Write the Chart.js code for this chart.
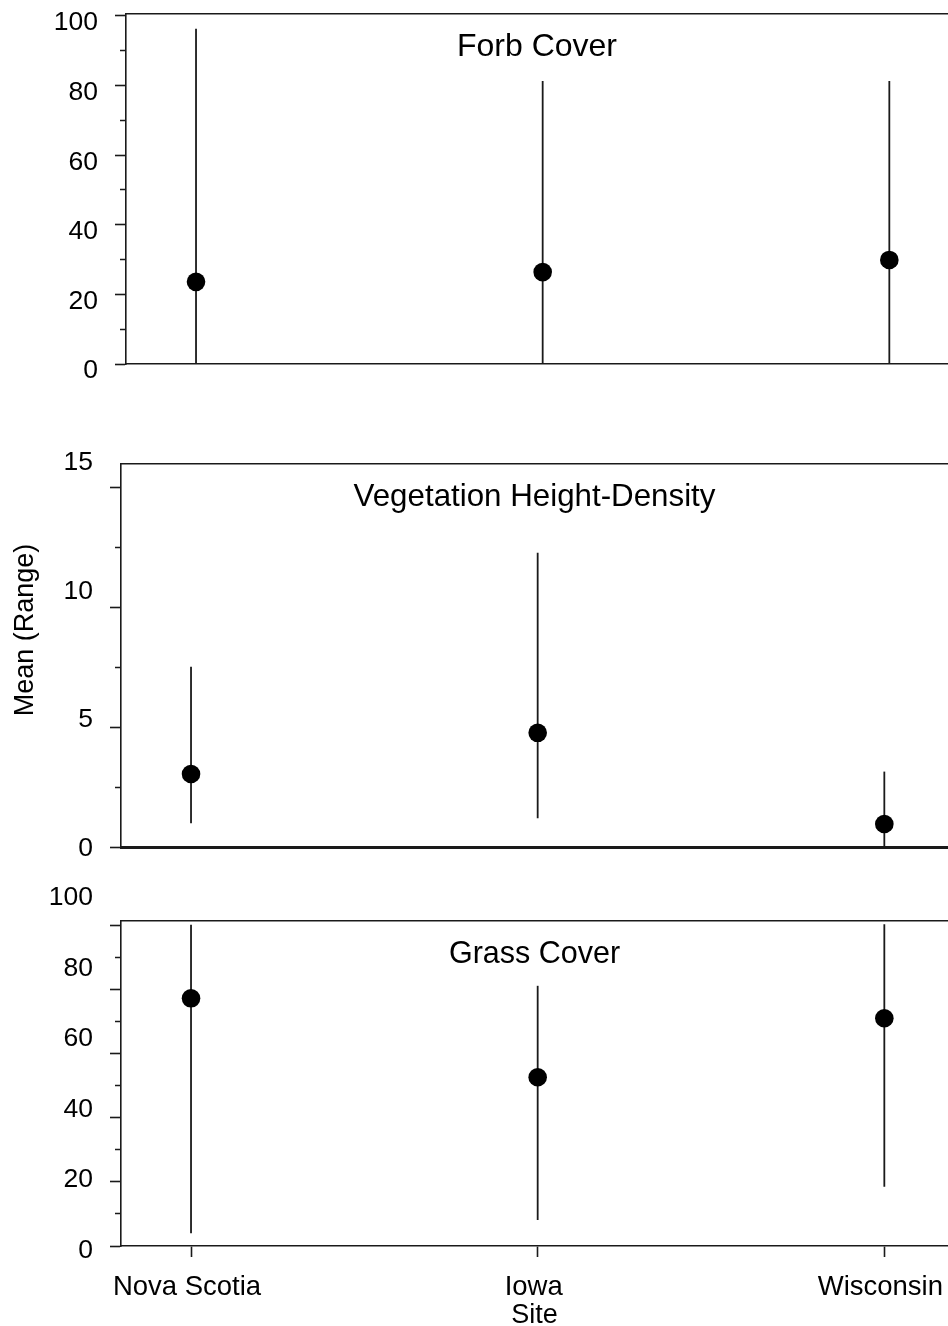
<!DOCTYPE html>
<html><head><meta charset="utf-8">
<script src="https://cdn.jsdelivr.net/npm/chart.js@4"></script>
<style>
html,body{margin:0;padding:0;background:#fff;overflow:hidden;width:948px;height:1326px}
canvas{position:absolute;left:0}
</style>
</head><body>
<canvas id="c1" width="948" height="400" style="top:0px"></canvas>
<canvas id="c2" width="948" height="460" style="top:400px"></canvas>
<canvas id="c3" width="948" height="466" style="top:860px"></canvas>
<script>
// ---- data ----
const sites = ['Nova Scotia', 'Iowa', 'Wisconsin'];

const forbMean = [23.6, 26.4, 29.9];
const forbLow  = [0, 0, 0];
const forbHigh = [96.3, 81.3, 81.3];

const vegMean = [3.05, 4.77, 0.96];
const vegLow  = [0.99, 1.2, 0];
const vegHigh = [7.53, 12.29, 3.15];

const grassMean = [77.2, 52.6, 71.0];
const grassLow  = [4.0, 8.1, 18.5];
const grassHigh = [100.1, 81.1, 100.3];

const forbTicks  = [0, 10, 20, 30, 40, 50, 60, 70, 80, 90, 100];
const forbMajor  = [0, 20, 40, 60, 80, 100];
const forbLabels = [0, 20, 40, 60, 80, 100];

const vegTicks  = [0, 2.5, 5, 7.5, 10, 12.5, 15];
const vegMajor  = [0, 5, 10, 15];
const vegLabels = [0, 5, 10, 15];

const grassTicks  = [0, 10, 20, 30, 40, 50, 60, 70, 80, 90, 100];
const grassMajor  = [0, 20, 40, 60, 80, 100];
const grassLabels = [0, 20, 40, 60, 80, 100];

// ---- styling ----
const FONT = "'Liberation Sans', Arial, Helvetica, sans-serif";
const INK = '#000';
const LINE = '#1a1a1a';
const X_MIN = 0.798;
const PX_PER_SITE = 346.65;
Chart.defaults.font.family = FONT;
Chart.defaults.color = INK;

function panel(canvasId, p) {
  const W = 948;
  const xMax = X_MIN + (W - p.left) / PX_PER_SITE;
  const datasets = [];
  sites.forEach((s, i) => {
    datasets.push({
      type: 'line',
      data: [{x: i + 1, y: p.low[i]}, {x: i + 1, y: p.high[i]}],
      borderColor: LINE, borderWidth: 1.8, pointRadius: 0, fill: false, tension: 0, order: 2
    });
  });
  datasets.push({
    type: 'scatter',
    data: p.mean.map((m, i) => ({x: i + 1, y: m})),
    pointRadius: 9.3, pointHoverRadius: 9.3, backgroundColor: INK, borderWidth: 0, order: 1
  });
  const titleBoxW = p.yTitle ? p.yTitle.size * 1.2 + p.yTitle.pad : 0;

  new Chart(document.getElementById(canvasId), {
    type: 'scatter',
    data: {datasets},
    options: {
      responsive: false, animation: false, devicePixelRatio: 1, events: [],
      layout: {padding: 0, autoPadding: false},
      plugins: {
        legend: {display: false},
        tooltip: {enabled: false},
        title: p.yTitle ? {
          display: true, position: 'left', fullSize: true, align: 'center',
          text: p.yTitle.text, color: INK,
          font: {family: FONT, size: p.yTitle.size, weight: 'normal', lineHeight: 1.2},
          padding: {top: p.yTitle.pad, bottom: 0}
        } : {display: false}
      },
      scales: {
        x: {
          type: 'linear', position: 'bottom', min: X_MIN, max: xMax,
          afterBuildTicks: a => { a.ticks = sites.map((s, i) => ({value: i + 1})); },
          ticks: {
            display: p.showX, autoSkip: false, maxRotation: 0, minRotation: 0,
            callback: v => sites[Math.round(v) - 1],
            font: {family: FONT, size: 27.5}, color: INK, padding: 13.5, labelOffset: -4
          },
          grid: {display: p.showX, drawOnChartArea: false, drawTicks: true, tickLength: 11, tickWidth: 1.6, tickColor: LINE},
          border: {display: true, color: LINE, width: p.bottomBorder},
          title: {display: p.showX, text: 'Site', color: INK, font: {family: FONT, size: 27, lineHeight: 0.78}, padding: 0},
          afterFit: a => { a.height = p.bottomH; a.paddingLeft = 0; a.paddingRight = 0; }
        },
        x2: {
          type: 'linear', position: 'top', min: X_MIN, max: xMax,
          ticks: {display: false}, grid: {display: false},
          border: {display: true, color: LINE, width: 1.6},
          title: {display: true, text: p.title, color: INK, font: {family: FONT, size: p.titleSize}, padding: {top: p.titlePad, bottom: 0}},
          afterFit: a => { a.height = p.topH; a.paddingLeft = 0; a.paddingRight = 0; }
        },
        y: {
          type: 'linear', position: 'left', weight: 0, min: p.yMin, max: p.yMax,
          afterBuildTicks: a => { a.ticks = p.ticks.map(v => ({value: v})); },
          ticks: {display: false},
          grid: {
            display: true, drawOnChartArea: false, drawTicks: true, tickLength: 11, tickWidth: 1.6, tickColor: LINE,
            tickBorderDash: c => (c.tick && p.major.includes(c.tick.value)) ? [] : [0, 5, 20]
          },
          border: {display: true, color: LINE, width: 1.6},
          afterFit: a => { a.width = 0; a.paddingTop = 0; a.paddingBottom = 0; }
        },
        yl: {
          type: 'linear', position: 'left', weight: 10, min: p.labMin, max: p.labMax,
          afterBuildTicks: a => { a.ticks = p.labels.map(v => ({value: v})); },
          ticks: {autoSkip: false, padding: 28, labelOffset: p.labShift, font: {family: FONT, size: 26.5}, color: INK, callback: v => String(v)},
          grid: {display: false, drawTicks: false},
          border: {display: false},
          afterFit: a => { a.width = p.left - titleBoxW; a.paddingTop = 0; a.paddingBottom = 0; }
        }
      }
    }
  });
}

panel('c1', {
  title: 'Forb Cover', titleSize: 32, titlePad: 27.8,
  mean: forbMean, low: forbLow, high: forbHigh,
  ticks: forbTicks, major: forbMajor, labels: forbLabels,
  yMin: 0, yMax: 100.57, labMin: 0, labMax: 100.57, labShift: 7,
  left: 126, topH: 14, bottomH: 36, bottomBorder: 1.6, showX: false
});

panel('c2', {
  title: 'Vegetation Height-Density', titleSize: 31.3, titlePad: 79,
  mean: vegMean, low: vegLow, high: vegHigh,
  ticks: vegTicks, major: vegMajor, labels: vegLabels,
  yMin: 0, yMax: 16, labMin: 0, labMax: 14.9, labShift: 1.5,
  left: 121, topH: 64, bottomH: 13, bottomBorder: 3, showX: false,
  yTitle: {text: 'Mean (Range)', size: 27, pad: 9}
});

panel('c3', {
  title: 'Grass Cover', titleSize: 30.5, titlePad: 76.7,
  mean: grassMean, low: grassLow, high: grassHigh,
  ticks: grassTicks, major: grassMajor, labels: grassLabels,
  yMin: 0, yMax: 101.3, labMin: 1.2, labMax: 93.45, labShift: 0,
  left: 121, topH: 61, bottomH: 80, bottomBorder: 1.6, showX: true
});
</script>
</body></html>
